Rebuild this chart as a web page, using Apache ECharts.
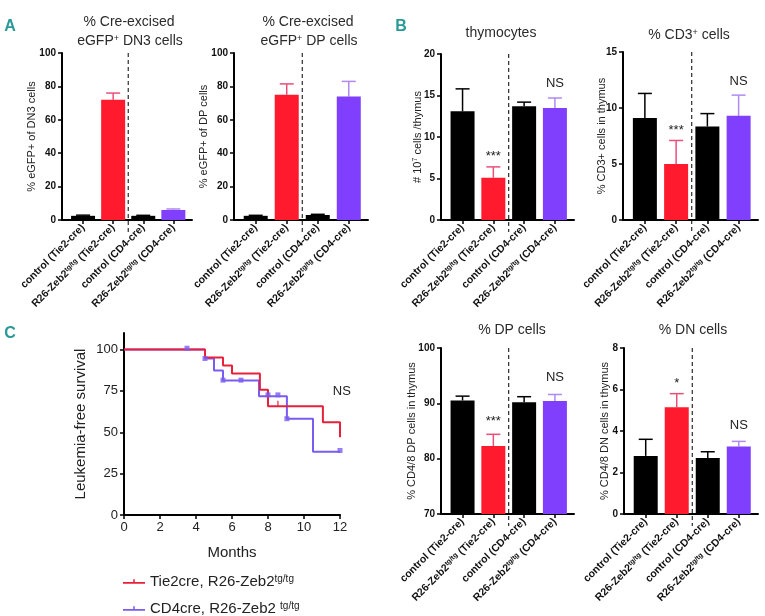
<!DOCTYPE html>
<html>
<head>
<meta charset="utf-8">
<script src="https://cdn.jsdelivr.net/npm/echarts@6/dist/echarts.min.js"></script>
<style>
    html, body { margin: 0; padding: 0; background: #fff; }
    #fig { width: 765px; height: 616px; }
</style>
</head>
<body>
<div id="fig"></div>
<script>
// groups on the x axis of every bar panel
var groups = ['control (Tie2-cre)', 'R26-Zeb2{sup|tg/tg} (Tie2-cre)', 'control (CD4-cre)', 'R26-Zeb2{sup|tg/tg} (CD4-cre)'];
var groupTicks = [0, 1, 2, 3];

// A: % cre-excised eGFP+ cells
var dn3Mean = [2.5, 72, 2.5, 6];
var dn3Err = [0.4, 4, 0.3, 0.6];
var dpEgfpMean = [2.5, 75, 3, 74];
var dpEgfpErr = [0.3, 6.5, 0.4, 9];

// B: thymus counts
var thymMean = [13.1, 5.1, 13.7, 13.5];
var thymErr = [2.7, 1.3, 0.5, 1.2];
var cd3Mean = [9.1, 5.0, 8.35, 9.3];
var cd3Err = [2.2, 2.1, 1.15, 1.85];
var dpMean = [90.5, 82.3, 90.2, 90.4];
var dpErr = [0.8, 2.1, 1.0, 1.2];
var dnMean = [2.8, 5.15, 2.7, 3.25];
var dnErr = [0.8, 0.65, 0.3, 0.25];

// significance marks [group, y, text]
var thymSig = [[1, 7.6, '***'], [3, 16.5, 'NS']];
var cd3Sig = [[1, 8.0, '***'], [3, 12.4, 'NS']];
var dpSig = [[1, 86.8, '***'], [3, 94.6, 'NS']];
var dnSig = [[1, 6.3, '*'], [3, 4.25, 'NS']];

// C: leukemia-free survival (Kaplan-Meier steps)
var tieMonths = [0, 4.5, 5.5, 6.0, 7.55, 8.0, 11.05, 12];
var tieSurv = [100, 95.2, 90.4, 85.5, 75.7, 65.7, 56, 47];
var tieCensMonths = [8.55];
var tieCensSurv = [67.2];
var cd4Months = [0, 4.5, 5.0, 5.5, 7.5, 9.05, 10.5, 12];
var cd4Surv = [100, 94.6, 87.3, 81.3, 71.7, 58.2, 38.3, 38.3];
var cd4CensMonths = [3.5, 4.5, 5.5, 6.5, 8.0, 8.55, 9.05, 12];
var cd4CensSurv = [100.8, 94.6, 81.5, 81.5, 72.6, 72.6, 58.2, 39];
var survTicks = [0, 25, 50, 75, 100];

var barColors = ['#000000', '#ff1a2e', '#000000', '#7f3ffc'];
var errColors = ['#000000', '#e8507a', '#000000', '#b08af2'];
var tieColor = '#e8203c';
var cd4Color = '#7a5cf0';
var teal = '#2a9a98';
var FONT = 'Liberation Sans, Arial, sans-serif';

var chart = echarts.init(document.getElementById('fig'));

// bar panels
var panels = [
    {l: 62, r: 192, t: 53, b: 220, min: 0, max: 100, step: 20, name: '% eGFP+ of DN3 cells', gap: 25, mean: dn3Mean, err: dn3Err, sig: []},
    {l: 234, r: 368, t: 53, b: 220, min: 0, max: 100, step: 20, name: '% eGFP+ of DP cells', gap: 25, mean: dpEgfpMean, err: dpEgfpErr, sig: []},
    {l: 441, r: 574, t: 54, b: 220, min: 0, max: 20, step: 5, name: '# 10{sup|7} cells /thymus', gap: 18, mean: thymMean, err: thymErr, sig: thymSig},
    {l: 623, r: 758, t: 52, b: 220, min: 0, max: 15, step: 5, name: '% CD3+ cells in thymus', gap: 16, mean: cd3Mean, err: cd3Err, sig: cd3Sig},
    {l: 441, r: 574, t: 348, b: 514, min: 70, max: 100, step: 10, name: '% CD4/8 DP cells in thymus', gap: 24, mean: dpMean, err: dpErr, sig: dpSig},
    {l: 624, r: 758, t: 348, b: 514, min: 0, max: 8, step: 2, name: '% CD4/8 DN cells in thymus', gap: 14, mean: dnMean, err: dnErr, sig: dnSig}
];

var grids = [], xAxes = [], yAxes = [], series = [];

panels.forEach(function (p, gi) {
    grids.push({left: p.l, top: p.t, width: p.r - p.l, height: p.b - p.t});
    xAxes.push({
        type: 'value', gridIndex: gi, min: -0.7, max: 3.62,
        splitLine: {show: false},
        axisLine: {onZero: false, lineStyle: {color: '#000', width: 2}},
        axisTick: {customValues: groupTicks, length: 4, lineStyle: {color: '#000', width: 1.5}},
        axisLabel: {
            customValues: groupTicks, rotate: 45, margin: 6,
            fontSize: 10.5, fontWeight: 'bold', color: '#111', fontFamily: FONT,
            formatter: function (v) { return groups[Math.round(v)]; },
            rich: {sup: {fontSize: 7, fontWeight: 'bold', color: '#111', verticalAlign: 'top', fontFamily: FONT}}
        }
    });
    yAxes.push({
        type: 'value', gridIndex: gi, min: p.min, max: p.max, interval: p.step,
        name: p.name, nameLocation: 'middle', nameGap: p.gap, nameMoveOverlap: false,
        nameTextStyle: {fontSize: 11, color: '#222', fontFamily: FONT, rich: {sup: {fontSize: 7, verticalAlign: 'top'}}},
        splitLine: {show: false},
        axisLine: {show: true, onZero: false, lineStyle: {color: '#000', width: 2}},
        axisTick: {show: true, length: 4, lineStyle: {color: '#000', width: 1.5}},
        axisLabel: {fontSize: 10, fontWeight: 'bold', color: '#111', margin: 6, fontFamily: FONT}
    });

    // dashed divider between Tie2-cre and CD4-cre groups
    series.push({
        type: 'custom', xAxisIndex: gi, yAxisIndex: gi, silent: true, clip: false, z: 1,
        data: [[1.5, p.max]],
        renderItem: function (params, api) {
            var top = api.coord([1.5, p.max]);
            var bot = api.coord([1.5, p.min]);
            return {type: 'line', shape: {x1: top[0], y1: top[1], x2: bot[0], y2: bot[1] + 12},
                style: {stroke: '#000', lineWidth: 1, lineDash: [4, 3]}};
        }
    });

    series.push({
        type: 'bar', xAxisIndex: gi, yAxisIndex: gi, barWidth: 24, z: 3,
        data: p.mean.map(function (m, i) { return {value: [i, m], itemStyle: {color: barColors[i]}}; })
    });

    // upper error bars
    series.push({
        type: 'custom', xAxisIndex: gi, yAxisIndex: gi, silent: true, z: 2,
        data: p.mean.map(function (m, i) { return [i, m, m + p.err[i]]; }),
        renderItem: function (params, api) {
            var lo = api.coord([api.value(0), api.value(1)]);
            var hi = api.coord([api.value(0), api.value(2)]);
            var col = errColors[params.dataIndex];
            return {type: 'group', children: [
                {type: 'line', shape: {x1: lo[0], y1: lo[1], x2: hi[0], y2: hi[1]}, style: {stroke: col, lineWidth: 1.5}},
                {type: 'line', shape: {x1: hi[0] - 7, y1: hi[1], x2: hi[0] + 7, y2: hi[1]}, style: {stroke: col, lineWidth: 1.5}}
            ]};
        }
    });

    if (p.sig.length) {
        series.push({
            type: 'custom', xAxisIndex: gi, yAxisIndex: gi, silent: true, z: 4,
            data: p.sig.map(function (s) { return [s[0], s[1]]; }),
            renderItem: function (params, api) {
                var pt = api.coord([api.value(0), api.value(1)]);
                return {type: 'text', x: pt[0], y: pt[1], style: {
                    text: p.sig[params.dataIndex][2], fontSize: 13, fill: '#222', fontFamily: FONT,
                    align: 'center', verticalAlign: 'middle'}};
            }
        });
    }
});

// survival panel
var sg = panels.length;
grids.push({left: 124, top: 333, width: 216, height: 182});
xAxes.push({
    type: 'value', gridIndex: sg, min: 0, max: 12, interval: 2,
    name: 'Months', nameLocation: 'middle', nameGap: 30,
    nameTextStyle: {fontSize: 15, color: '#222', fontFamily: FONT},
    splitLine: {show: false},
    axisLine: {onZero: false, lineStyle: {color: '#000', width: 2}},
    axisTick: {length: 4, lineStyle: {color: '#000', width: 1.5}},
    axisLabel: {fontSize: 13, color: '#222', margin: 6, fontFamily: FONT}
});
yAxes.push({
    type: 'value', gridIndex: sg, min: 0, max: 110,
    name: 'Leukemia-free survival', nameLocation: 'middle', nameGap: 36,
    nameTextStyle: {fontSize: 15, color: '#222', fontFamily: FONT},
    splitLine: {show: false},
    axisLine: {show: true, onZero: false, lineStyle: {color: '#000', width: 2}},
    axisTick: {show: true, customValues: survTicks, length: 4, lineStyle: {color: '#000', width: 1.5}},
    axisLabel: {customValues: survTicks, fontSize: 13, color: '#222', margin: 6, fontFamily: FONT}
});

function pairs(xs, ys) { return xs.map(function (x, i) { return [x, ys[i]]; }); }

series.push({
    name: 'Tie2cre, R26-Zeb2', type: 'line', step: 'end', xAxisIndex: sg, yAxisIndex: sg,
    symbol: 'none', color: tieColor, lineStyle: {width: 2}, z: 3,
    data: pairs(tieMonths, tieSurv)
});
series.push({
    name: 'CD4cre, R26-Zeb2 ', type: 'line', step: 'end', xAxisIndex: sg, yAxisIndex: sg,
    symbol: 'none', color: cd4Color, lineStyle: {width: 2}, z: 2,
    data: pairs(cd4Months, cd4Surv)
});
series.push({
    name: 'tie censored', type: 'scatter', xAxisIndex: sg, yAxisIndex: sg, silent: true,
    symbol: 'rect', symbolSize: [1.5, 6], color: tieColor, z: 4,
    data: pairs(tieCensMonths, tieCensSurv)
});
series.push({
    name: 'cd4 censored', type: 'scatter', xAxisIndex: sg, yAxisIndex: sg, silent: true,
    symbol: 'rect', symbolSize: 5, color: cd4Color, z: 4,
    data: pairs(cd4CensMonths, cd4CensSurv)
});
series.push({
    type: 'custom', xAxisIndex: sg, yAxisIndex: sg, silent: true, clip: false,
    data: [[12.1, 74.7]],
    renderItem: function (params, api) {
        var pt = api.coord([api.value(0), api.value(1)]);
        return {type: 'text', x: pt[0], y: pt[1], style: {text: 'NS', fontSize: 13, fill: '#222',
            fontFamily: FONT, align: 'center', verticalAlign: 'middle'}};
    }
});

// panel titles and letters
function label(text, x, y, size) {
    return {type: 'text', x: x, y: y, silent: true, style: {
        text: text, fontSize: size || 14, fill: '#2b2b2b', fontFamily: FONT,
        align: 'center', verticalAlign: 'middle',
        rich: {sup: {fontSize: 9, verticalAlign: 'top', fill: '#2b2b2b', fontFamily: FONT}}
    }};
}
function letter(text, x, y) {
    return {type: 'text', x: x, y: y, silent: true, style: {
        text: text, fontSize: 16, fontWeight: 'bold', fill: teal,
        fontFamily: 'Liberation Sans Narrow, Liberation Sans, sans-serif',
        align: 'center', verticalAlign: 'middle'}};
}

function survLegend(name, top) {
    return {
        data: [name], orient: 'vertical', left: 118, top: top,
        itemWidth: 22, itemHeight: 7, selectedMode: false,
        icon: 'path://M0,3H20V4.5H0Z M9.3,0.5H10.7V4H9.3Z',
        textStyle: {fontSize: 15, color: '#222', fontFamily: FONT,
            rich: {sup: {fontSize: 10, verticalAlign: 'top', color: '#222', fontFamily: FONT}}},
        formatter: function (n) { return n + '{sup|tg/tg}'; }
    };
}

var option = {
    animation: false,
    backgroundColor: '#fff',
    textStyle: {fontFamily: FONT},
    grid: grids,
    xAxis: xAxes,
    yAxis: yAxes,
    legend: [
        survLegend('Tie2cre, R26-Zeb2', 569),
        survLegend('CD4cre, R26-Zeb2 ', 596)
    ],
    graphic: [
        letter('A', 10, 27),
        letter('B', 401, 27),
        letter('C', 10, 334),
        label('% Cre-excised', 129, 22),
        label('eGFP{sup|+} DN3 cells', 130, 41),
        label('% Cre-excised', 308, 22),
        label('eGFP{sup|+} DP cells', 309, 41),
        label('thymocytes', 501, 33),
        label('% CD3{sup|+} cells', 689, 35),
        label('% DP cells', 512, 330),
        label('% DN cells', 693, 330)
    ],
    series: series
};

chart.setOption(option);
</script>
</body>
</html>
